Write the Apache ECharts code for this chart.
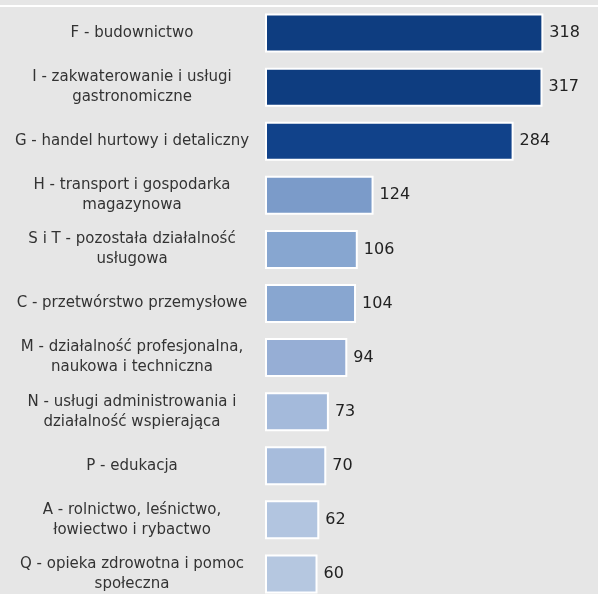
<!DOCTYPE html>
<html>
<head>
<meta charset="utf-8">
<script src="https://cdn.jsdelivr.net/npm/echarts@6/dist/echarts.min.js"></script>
<style>
html,body{margin:0;padding:0;background:#e6e6e6;}
#c{width:598px;height:594px;}
</style>
</head>
<body>
<div id="c"></div>
<script>
var categories = [
  "F - budownictwo",
  "I - zakwaterowanie i usługi\ngastronomiczne",
  "G - handel hurtowy i detaliczny",
  "H - transport i gospodarka\nmagazynowa",
  "S i T - pozostała działalność\nusługowa",
  "C - przetwórstwo przemysłowe",
  "M - działalność profesjonalna,\nnaukowa i techniczna",
  "N - usługi administrowania i\ndziałalność wspierająca",
  "P - edukacja",
  "A - rolnictwo, leśnictwo,\nłowiectwo i rybactwo",
  "Q - opieka zdrowotna i pomoc\nspołeczna"
];
var values = [318, 317, 284, 124, 106, 104, 94, 73, 70, 62, 60];
var barColors = ["#0e3d80", "#0e3d80", "#11428a", "#7b9bc9", "#87a6d0", "#88a6d0", "#96aed5", "#a4badb", "#a7bcdc", "#b2c5e0", "#b5c7e0"];

var chart = echarts.init(document.getElementById('c'), null, {renderer: 'canvas'});
chart.setOption({
  backgroundColor: '#e6e6e6',
  animation: false,
  graphic: [{
    type: 'rect',
    left: 0, top: 5,
    shape: {width: 598, height: 2},
    style: {fill: '#ffffff'}
  }],
  grid: {left: 265, right: 38, top: 6, bottom: -7, containLabel: false, outerBoundsMode: 'none'},
  xAxis: {
    type: 'value', min: 0, max: 337, show: false
  },
  yAxis: {
    type: 'category',
    inverse: true,
    data: categories,
    axisLine: {show: false},
    axisTick: {show: false},
    splitLine: {show: false},
    axisLabel: {
      align: 'center',
      margin: 133,
      fontFamily: 'DejaVu Sans',
      fontSize: 15,
      lineHeight: 20,
      color: '#333333'
    }
  },
  series: [{
    type: 'bar',
    data: values.map(function (v, i) {
      return {value: v, itemStyle: {color: barColors[i]}};
    }),
    barWidth: 39,
    itemStyle: {borderColor: '#ffffff', borderWidth: 2},
    label: {
      show: true,
      position: 'right',
      distance: 6,
      fontFamily: 'DejaVu Sans',
      fontSize: 16,
      color: '#222222'
    }
  }]
});
</script>
</body>
</html>
